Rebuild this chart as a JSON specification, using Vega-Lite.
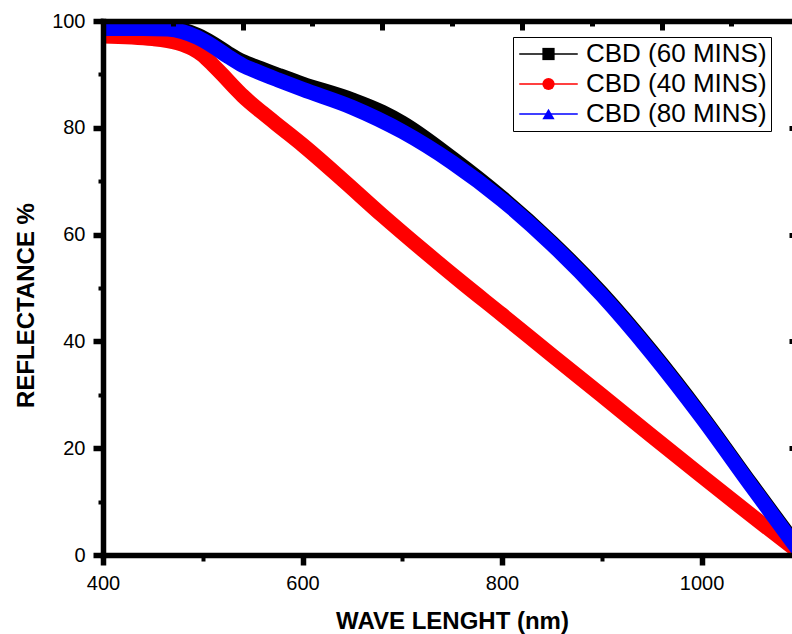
{
  "$schema": "https://vega.github.io/schema/vega-lite/v6.json",
  "width": 689,
  "height": 534,
  "autosize": {"type": "none"},
  "padding": {"left": 103, "top": 21, "right": 0, "bottom": 79},
  "background": "white",
  "config": {"view": {"stroke": null}},
  "data": {"values": [
    {"s": "60", "wl": 400, "R": 98.8}, {"s": "60", "wl": 440, "R": 98.8}, {"s": "60", "wl": 465, "R": 98.8},
    {"s": "60", "wl": 480, "R": 98.3}, {"s": "60", "wl": 495, "R": 97.3}, {"s": "60", "wl": 510, "R": 95.8},
    {"s": "60", "wl": 525, "R": 94.0}, {"s": "60", "wl": 540, "R": 92.4}, {"s": "60", "wl": 555, "R": 91.3},
    {"s": "60", "wl": 575, "R": 89.9}, {"s": "60", "wl": 600, "R": 88.2}, {"s": "60", "wl": 650, "R": 85.2},
    {"s": "60", "wl": 680, "R": 82.9}, {"s": "60", "wl": 700, "R": 80.9}, {"s": "60", "wl": 750, "R": 74.3},
    {"s": "60", "wl": 800, "R": 66.9}, {"s": "60", "wl": 850, "R": 58.5}, {"s": "60", "wl": 900, "R": 49.0},
    {"s": "60", "wl": 950, "R": 38.1}, {"s": "60", "wl": 1000, "R": 26.1}, {"s": "60", "wl": 1050, "R": 13.2},
    {"s": "60", "wl": 1100, "R": 0.5},

    {"s": "40", "wl": 400, "R": 97.2}, {"s": "40", "wl": 450, "R": 96.7}, {"s": "40", "wl": 475, "R": 95.9},
    {"s": "40", "wl": 490, "R": 94.8}, {"s": "40", "wl": 500, "R": 93.6}, {"s": "40", "wl": 510, "R": 91.8},
    {"s": "40", "wl": 520, "R": 89.9}, {"s": "40", "wl": 530, "R": 87.9}, {"s": "40", "wl": 540, "R": 86.0},
    {"s": "40", "wl": 560, "R": 82.8}, {"s": "40", "wl": 580, "R": 79.8}, {"s": "40", "wl": 600, "R": 76.8},
    {"s": "40", "wl": 640, "R": 70.3}, {"s": "40", "wl": 680, "R": 63.6}, {"s": "40", "wl": 720, "R": 57.2},
    {"s": "40", "wl": 760, "R": 51.0}, {"s": "40", "wl": 800, "R": 45.0}, {"s": "40", "wl": 850, "R": 37.4},
    {"s": "40", "wl": 900, "R": 29.9}, {"s": "40", "wl": 950, "R": 22.3}, {"s": "40", "wl": 1000, "R": 14.8},
    {"s": "40", "wl": 1050, "R": 7.4}, {"s": "40", "wl": 1100, "R": 0.2},

    {"s": "80", "wl": 400, "R": 98.6}, {"s": "80", "wl": 440, "R": 98.6}, {"s": "80", "wl": 465, "R": 98.5},
    {"s": "80", "wl": 480, "R": 98.0}, {"s": "80", "wl": 495, "R": 96.9}, {"s": "80", "wl": 510, "R": 95.3},
    {"s": "80", "wl": 525, "R": 93.4}, {"s": "80", "wl": 540, "R": 91.7}, {"s": "80", "wl": 555, "R": 90.5},
    {"s": "80", "wl": 575, "R": 89.0}, {"s": "80", "wl": 600, "R": 87.2}, {"s": "80", "wl": 650, "R": 83.8},
    {"s": "80", "wl": 700, "R": 79.3}, {"s": "80", "wl": 750, "R": 73.5}, {"s": "80", "wl": 800, "R": 66.5},
    {"s": "80", "wl": 850, "R": 58.2}, {"s": "80", "wl": 900, "R": 48.7}, {"s": "80", "wl": 950, "R": 37.8},
    {"s": "80", "wl": 1000, "R": 25.8}, {"s": "80", "wl": 1050, "R": 12.9}, {"s": "80", "wl": 1100, "R": 0.2}
  ]},
  "layer": [
    {
      "encoding": {
        "x": {"field": "wl", "type": "quantitative",
          "scale": {"domain": [400, 1090.7], "nice": false, "zero": false},
          "axis": {"orient": "bottom", "values": [400, 500, 600, 700, 800, 900, 1000], "format": "d",
            "labelExpr": "datum.value % 200 === 0 ? datum.label : ''",
            "tickSize": {"condition": {"test": "datum.value % 200 === 0", "value": 10}, "value": 6},
            "tickWidth": {"condition": {"test": "datum.value % 200 === 0", "value": 5.5}, "value": 4},
            "tickColor": "black", "domainColor": "black", "domainWidth": 5.5, "domainCap": "square",
            "labelFont": "Liberation Sans", "labelFontSize": 20, "labelColor": "black", "labelPadding": 8,
            "labelFlush": false, "labelOverlap": false, "grid": false,
            "title": "WAVE LENGHT (nm)", "titleFont": "Liberation Sans", "titleFontSize": 24, "titleFontWeight": "bold",
            "titleColor": "black", "titleX": 349, "titleY": 73, "titleBaseline": "alphabetic", "zindex": 1}},
        "y": {"field": "R", "type": "quantitative",
          "scale": {"domain": [0, 100], "nice": false},
          "axis": {"orient": "left", "values": [0, 10, 20, 30, 40, 50, 60, 70, 80, 90, 100], "format": "d",
            "labelExpr": "datum.value % 20 === 0 ? datum.label : ''",
            "tickSize": {"condition": {"test": "datum.value % 20 === 0", "value": 10}, "value": 5},
            "tickWidth": {"condition": {"test": "datum.value % 20 === 0", "value": 5.5}, "value": 4},
            "tickColor": "black", "domainColor": "black", "domainWidth": 5.5, "domainCap": "square",
            "labelFont": "Liberation Sans", "labelFontSize": 20, "labelColor": "black", "labelPadding": 8,
            "labelFlush": false, "labelOverlap": false, "grid": false,
            "title": "REFLECTANCE %", "titleFont": "Liberation Sans", "titleFontSize": 24, "titleFontWeight": "bold",
            "titleColor": "black", "titleX": -70, "titleY": 284, "titleAngle": 270, "titleBaseline": "alphabetic", "zindex": 1}}
      },
      "layer": [
        {"transform": [{"filter": "datum.s === '60'"}],
         "mark": {"type": "line", "strokeWidth": 15, "strokeCap": "butt", "interpolate": "monotone", "clip": true},
         "encoding": {"stroke": {"datum": "CBD (60 MINS)", "type": "nominal",
           "scale": {"domain": ["CBD (60 MINS)", "CBD (40 MINS)", "CBD (80 MINS)"], "range": ["black", "red", "blue"]},
           "legend": {"orient": "none", "legendX": 410, "legendY": 16, "direction": "vertical", "title": null,
             "symbolType": "M-4.5,0H4.5", "symbolSize": 169, "symbolStrokeWidth": 1.3, "symbolOffset": 18.5,
             "labelFont": "Liberation Sans", "labelFontSize": 26, "labelColor": "black", "labelOffset": 24.5,
             "rowPadding": 4, "padding": 4, "strokeColor": "black", "labelLimit": 400}}}},
        {"transform": [{"filter": "datum.s === '40'"}],
         "mark": {"type": "line", "strokeWidth": 15, "strokeCap": "butt", "interpolate": "monotone", "clip": true},
         "encoding": {"stroke": {"datum": "CBD (40 MINS)", "type": "nominal"}}},
        {"transform": [{"filter": "datum.s === '80'"}],
         "mark": {"type": "line", "strokeWidth": 15, "strokeCap": "butt", "interpolate": "monotone", "clip": true},
         "encoding": {"stroke": {"datum": "CBD (80 MINS)", "type": "nominal"}}}
      ]
    },
    {
      "transform": [{"filter": "false"}],
      "mark": {"type": "point", "filled": true, "opacity": 1},
      "encoding": {
        "x": {"field": "wl", "type": "quantitative",
          "scale": {"domain": [400, 1090.7], "nice": false, "zero": false},
          "axis": {"orient": "top", "values": [400, 470, 540, 610, 680, 750, 820, 890, 960, 1030],
            "labels": false, "title": null, "grid": false,
            "tickSize": {"condition": {"test": "(datum.value - 400) % 140 === 0", "value": -9}, "value": -5},
            "tickWidth": 5, "tickColor": "black", "domainColor": "black", "domainWidth": 5.5, "domainCap": "square", "zindex": 1}},
        "y": {"field": "R", "type": "quantitative",
          "scale": {"domain": [0, 100], "nice": false},
          "axis": {"orient": "right", "offset": 9, "values": [0, 20, 40, 60, 80, 100],
            "labels": false, "title": null, "grid": false, "tickSize": -12, "tickWidth": 5,
            "tickColor": "black", "domainColor": "black", "domainWidth": 5.5, "zindex": 1}},
        "fill": {"field": "s", "type": "nominal",
          "scale": {"domain": ["60", "40", "80"], "range": ["black", "red", "blue"]},
          "legend": {"orient": "none", "legendX": 428.5, "legendY": 16, "direction": "vertical", "title": null,
            "symbolSize": 150, "symbolStrokeWidth": 0, "labelFont": "Liberation Sans", "labelFontSize": 26,
            "labelExpr": "''", "rowPadding": 4, "padding": 4, "labelLimit": 400}},
        "shape": {"field": "s", "type": "nominal",
          "scale": {"domain": ["60", "40", "80"], "range": ["square", "circle", "triangle-up"]},
          "legend": {"orient": "none", "legendX": 428.5, "legendY": 16, "direction": "vertical", "title": null,
            "symbolSize": 150, "symbolStrokeWidth": 0, "labelFont": "Liberation Sans", "labelFontSize": 26,
            "labelExpr": "''", "rowPadding": 4, "padding": 4, "labelLimit": 400}}
      }
    }
  ],
  "resolve": {"axis": {"x": "independent", "y": "independent"}}
}
